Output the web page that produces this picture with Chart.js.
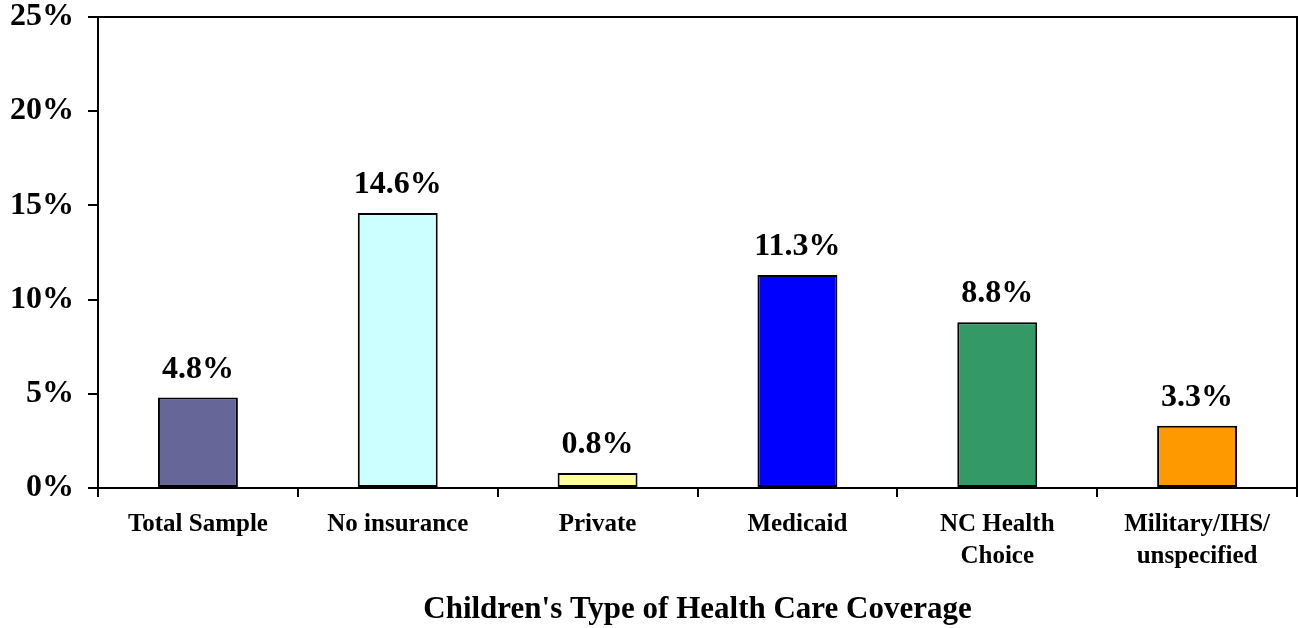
<!DOCTYPE html>
<html>
<head>
<meta charset="utf-8">
<script src="https://cdn.jsdelivr.net/npm/chart.js@4.4.1/dist/chart.umd.min.js"></script>
<style>
  html, body { margin: 0; padding: 0; background: #fff; }
  #wrap { width: 1298px; height: 628px; position: relative; }
</style>
</head>
<body>
<div id="wrap"><canvas id="c" width="1298" height="628"></canvas></div>
<script>
const categories = [
  "Total Sample",
  "No insurance",
  "Private",
  "Medicaid",
  ["NC Health", "Choice"],
  ["Military/IHS/", "unspecified"]
];
const values = [4.8, 14.6, 0.8, 11.3, 8.8, 3.3];
const barColors = ["#666699", "#CCFFFF", "#FFFF99", "#0000FF", "#339966", "#FF9900"];
const yTicks = [0, 5, 10, 15, 20, 25];
const xTitle = "Children's Type of Health Care Coverage";

const FONT = "'Liberation Serif', 'Times New Roman', serif";

const framePlugin = {
  id: 'frame',
  afterDraw(chart) {
    const { ctx, chartArea: a } = chart;
    ctx.save();
    ctx.strokeStyle = '#000';
    ctx.lineWidth = 2;
    ctx.beginPath();
    ctx.moveTo(a.left, a.top);
    ctx.lineTo(a.right, a.top);
    ctx.lineTo(a.right, a.bottom);
    ctx.stroke();
    ctx.restore();
  }
};

const labelPlugin = {
  id: 'valueLabels',
  afterDatasetsDraw(chart) {
    const { ctx } = chart;
    const meta = chart.getDatasetMeta(0);
    ctx.save();
    ctx.font = "bold 32px " + FONT;
    ctx.fillStyle = '#000';
    ctx.textAlign = 'center';
    ctx.textBaseline = 'alphabetic';
    meta.data.forEach((bar, i) => {
      ctx.fillText(values[i].toFixed(1) + '%', bar.x, bar.y - 20);
    });
    ctx.restore();
  }
};

new Chart(document.getElementById('c'), {
  type: 'bar',
  data: {
    labels: categories,
    datasets: [{
      data: values,
      backgroundColor: barColors,
      borderColor: '#000',
      borderWidth: 2,
      borderSkipped: false,
      barPercentage: 0.4,
      categoryPercentage: 1.0
    }]
  },
  options: {
    responsive: false,
    animation: false,
    devicePixelRatio: 1,
    layout: { padding: { top: 17, right: 1, left: 0, bottom: 0 } },
    plugins: { legend: { display: false }, tooltip: { enabled: false } },
    scales: {
      x: {
        grid: { offset: true, drawOnChartArea: false, color: '#000', lineWidth: 2, tickLength: 9 },
        border: { color: '#000', width: 2 },
        ticks: {
          color: '#000',
          font: { family: FONT, size: 25, weight: 'bold', lineHeight: 1.28 },
          padding: 12,
          maxRotation: 0,
          autoSkip: false
        },
        title: {
          display: true,
          text: xTitle,
          color: '#000',
          font: { family: FONT, size: 31, weight: 'bold', lineHeight: 1.0 },
          padding: { top: 0, bottom: 3 }
        },
        afterFit(scale) { scale.height = 140; scale.paddingLeft = 0; scale.paddingRight = 0; }
      },
      y: {
        min: 0,
        max: 25,
        afterBuildTicks(scale) { scale.ticks = yTicks.map(v => ({ value: v })); },
        grid: { drawOnChartArea: false, color: '#000', lineWidth: 2, tickLength: 10 },
        border: { color: '#000', width: 2 },
        ticks: {
          color: '#000',
          font: { family: FONT, size: 32, weight: 'bold' },
          padding: 14,
          callback: v => v + '%'
        },
        afterFit(scale) { scale.width = 98; scale.paddingTop = 0; scale.paddingBottom = 0; }
      }
    }
  },
  plugins: [framePlugin, labelPlugin]
});
</script>
</body>
</html>
